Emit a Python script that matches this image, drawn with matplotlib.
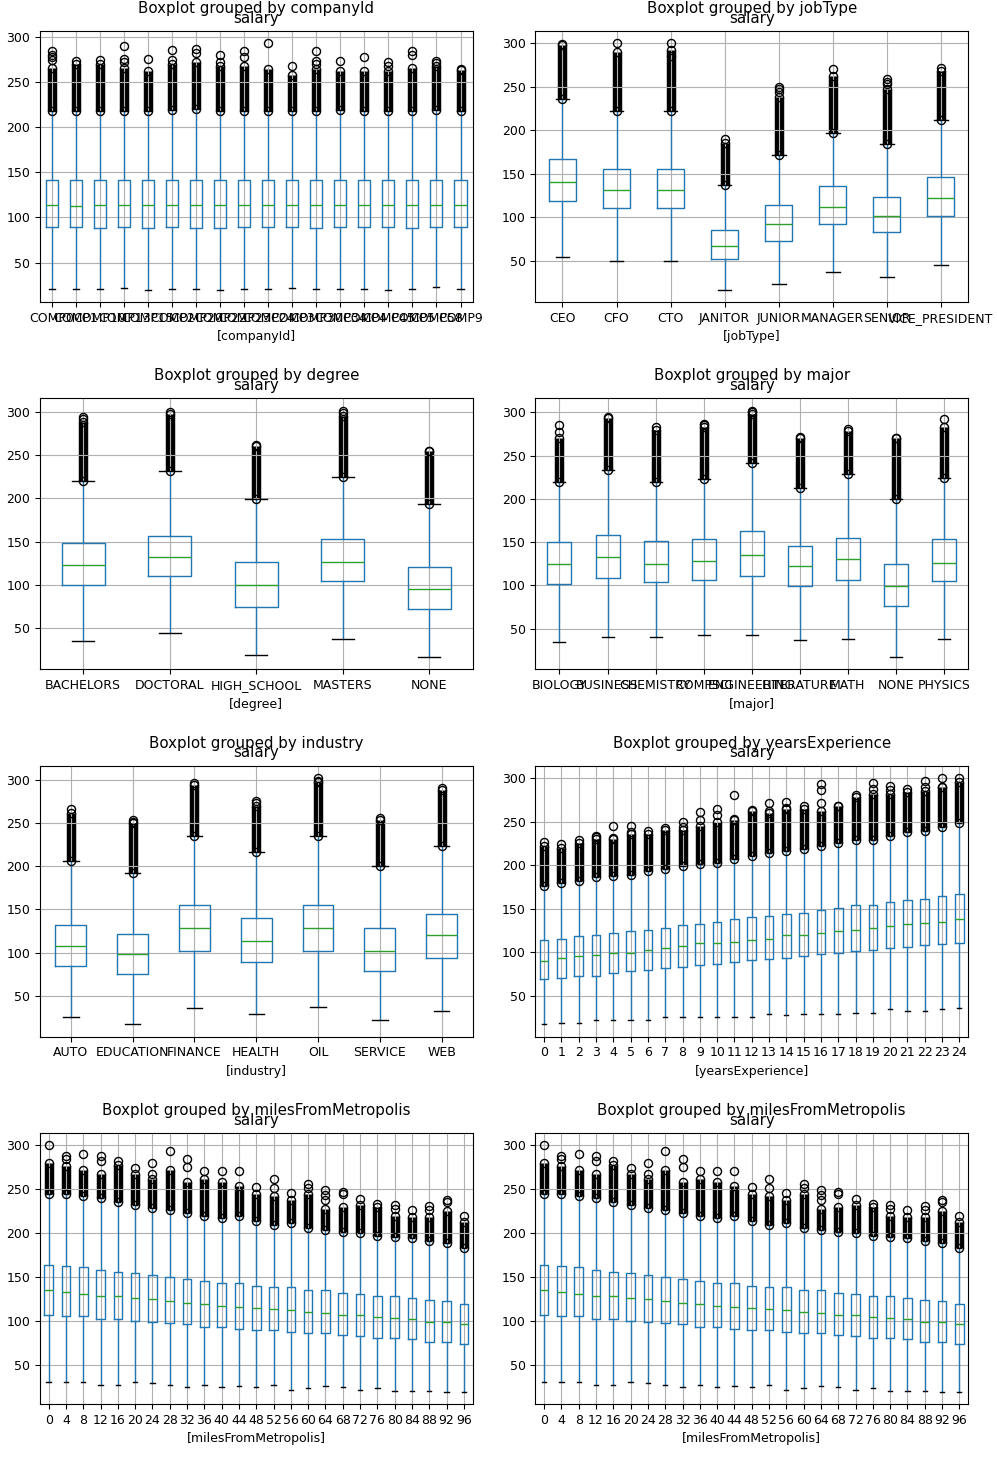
import numpy as np
import matplotlib
matplotlib.use('Agg')
import matplotlib.pyplot as plt

# salary boxplots, one panel per feature

company_labels = ['COMP0', 'COMP1', 'COMP10', 'COMP13', 'COMP15', 'COMP2', 'COMP20', 'COMP22', 'COMP23',
                  'COMP24', 'COMP3', 'COMP30', 'COMP34', 'COMP4', 'COMP45', 'COMP5', 'COMP58', 'COMP9']
company_med = [114, 113, 114, 114, 114, 114, 114, 114, 114, 114, 114, 114, 114, 114, 114, 114, 114, 114]
company_q1 = [89, 89, 88, 89, 88, 89, 88, 88, 89, 89, 89, 88, 89, 89, 89, 88, 89, 89]
company_q3 = [142, 141, 141, 141, 141, 142, 142, 141, 141, 141, 141, 141, 142, 141, 141, 141, 142, 142]
company_lo = [21, 21, 21, 22, 20, 21, 21, 20, 21, 21, 22, 21, 21, 21, 20, 21, 23, 21]
company_hi = [218, 218, 218, 218, 218, 219, 220, 218, 218, 218, 218, 218, 219, 218, 218, 218, 219, 218]
company_dense = [266, 270, 270, 266, 262, 270, 272, 268, 268, 265, 258, 265, 262, 262, 262, 266, 268, 263]
company_lone = [[275, 278, 280, 284], [274], [275], [272, 276, 290], [276], [275, 286], [282, 287], [272, 280],
                [278, 285], [293], [268], [270, 273, 284], [273], [278], [268, 272], [280, 284], [271, 274], [265]]

job_labels = ['CEO', 'CFO', 'CTO', 'JANITOR', 'JUNIOR', 'MANAGER', 'SENIOR', 'VICE_PRESIDENT']
job_med = [141, 131, 131, 67, 92, 112, 102, 122]
job_q1 = [119, 111, 111, 52, 73, 92, 83, 102]
job_q3 = [167, 156, 156, 86, 114, 136, 124, 146]
job_lo = [54, 50, 50, 17, 23, 37, 31, 45]
job_hi = [236, 222, 222, 137, 172, 197, 184, 212]
job_dense = [298, 290, 292, 186, 238, 262, 248, 268]
job_lone = [[299], [300], [285, 300], [190], [244, 247, 250], [270], [253, 256, 259], [272]]

degree_labels = ['BACHELORS', 'DOCTORAL', 'HIGH_SCHOOL', 'MASTERS', 'NONE']
degree_med = [123, 132, 100, 127, 95]
degree_q1 = [100, 110, 75, 105, 72]
degree_q3 = [149, 157, 126, 153, 121]
degree_lo = [35, 45, 19, 38, 17]
degree_hi = [220, 231, 199, 225, 193]
degree_dense = [288, 297, 260, 295, 254]
degree_lone = [[291, 294], [300], [262], [298, 301], [255]]

major_labels = ['BIOLOGY', 'BUSINESS', 'CHEMISTRY', 'COMPSCI', 'ENGINEERING', 'LITERATURE', 'MATH', 'NONE', 'PHYSICS']
major_med = [125, 133, 125, 128, 135, 122, 130, 99, 126]
major_q1 = [102, 109, 104, 106, 111, 99, 106, 76, 105]
major_q3 = [150, 158, 151, 154, 163, 145, 155, 125, 153]
major_lo = [34, 40, 40, 42, 42, 37, 38, 17, 38]
major_hi = [219, 233, 220, 223, 241, 213, 229, 200, 224]
major_dense = [270, 294, 280, 283, 298, 270, 278, 270, 283]
major_lone = [[277, 285], [295], [283], [285, 287], [300, 302], [272], [281], [271], [293]]

industry_labels = ['AUTO', 'EDUCATION', 'FINANCE', 'HEALTH', 'OIL', 'SERVICE', 'WEB']
industry_med = [108, 98, 128, 114, 128, 102, 120]
industry_q1 = [84, 75, 102, 89, 102, 79, 94]
industry_q3 = [132, 122, 155, 140, 155, 128, 145]
industry_lo = [26, 17, 36, 29, 37, 22, 32]
industry_hi = [206, 192, 235, 216, 235, 200, 223]
industry_dense = [262, 250, 294, 270, 298, 254, 288]
industry_lone = [[266], [251, 254], [296], [273, 275], [299, 302], [256], [291]]

years_labels = [str(y) for y in range(25)]
years_med = [90, 93, 95, 97, 99, 99, 102, 105, 107, 110, 111, 112, 114, 115, 120, 120, 122, 124, 126, 128, 130, 132, 134, 135, 138]
years_q1 = [69, 70, 73, 73, 76, 78, 80, 82, 83, 85, 86, 89, 91, 92, 93, 96, 98, 99, 101, 102, 105, 106, 108, 109, 111]
years_q3 = [114, 115, 118, 120, 122, 124, 126, 128, 131, 132, 135, 138, 140, 141, 144, 145, 148, 151, 154, 154, 158, 160, 161, 164, 167]
years_lo = [17, 19, 19, 22, 22, 22, 22, 26, 26, 26, 25, 26, 26, 29, 28, 29, 29, 29, 30, 30, 35, 32, 32, 35, 36]
years_hi = [176, 179, 182, 186, 187, 189, 193, 196, 199, 201, 203, 207, 210, 214, 216, 218, 222, 225, 229, 229, 233, 238, 239, 244, 248]
years_dense = [222, 220, 225, 230, 230, 236, 236, 240, 240, 245, 250, 252, 262, 260, 264, 264, 262, 268, 278, 282, 282, 284, 285, 290, 295]
years_lone = [[227], [224], [229], [232, 234], [231, 245], [238, 245], [239], [243], [244, 249], [252, 261],
              [258, 264], [253, 281], [263], [262, 271], [266, 273], [268], [271, 286, 293], [268], [281],
              [288, 294], [286, 291], [288], [290, 297], [290, 300], [300]]

miles_labels = [str(m) for m in range(0, 100, 4)]
miles_med = [135, 133, 131, 128, 128, 126, 125, 122, 120, 119, 117, 116, 115, 113, 112, 110, 109, 107, 107, 104, 103, 102, 99, 99, 96]
miles_q1 = [106, 105, 105, 102, 102, 100, 99, 97, 96, 93, 93, 91, 90, 89, 87, 86, 86, 84, 83, 80, 80, 79, 76, 76, 74]
miles_q3 = [164, 162, 161, 158, 156, 154, 152, 150, 148, 145, 143, 143, 140, 138, 138, 135, 135, 132, 130, 128, 128, 126, 124, 122, 119]
miles_lo = [30, 30, 30, 27, 27, 30, 29, 27, 24, 27, 24, 26, 24, 27, 21, 23, 26, 24, 21, 23, 20, 20, 20, 19, 19]
miles_hi = [245, 245, 242, 240, 235, 232, 229, 226, 223, 220, 217, 219, 214, 209, 212, 206, 204, 201, 200, 197, 195, 194, 191, 189, 183]
miles_dense = [280, 276, 272, 268, 278, 268, 262, 272, 258, 262, 258, 254, 245, 242, 238, 245, 228, 230, 232, 230, 220, 218, 218, 225, 213]
miles_lone = [[300], [285, 288], [290], [282, 288], [282], [274], [268, 280], [294], [275, 284], [271], [271], [271],
              [253], [252, 262], [246], [252, 256], [238, 244, 249], [245, 247], [239], [233], [228, 232], [226],
              [226, 231], [236, 238], [219]]

plt.rcParams['font.size'] = 9
plt.rcParams['xtick.labelsize'] = 9
plt.rcParams['ytick.labelsize'] = 9
plt.rcParams['axes.titlesize'] = 10.8


def draw(ax, by, labels, med, q1, q3, lo, hi, dense, lone):
    stats = []
    for i in range(len(labels)):
        stats.append(dict(label=labels[i], med=med[i], q1=q1[i], q3=q3[i],
                          whislo=lo[i], whishi=hi[i], fliers=[hi[i], dense[i]] + lone[i]))
    pos = np.arange(1, len(labels) + 1)
    # thousands of overlapping outliers form a solid black column
    ax.vlines(pos, hi, dense, color='k', lw=6.8, zorder=1.5)
    ax.bxp(stats, positions=pos,
           boxprops=dict(color='C0'), whiskerprops=dict(color='C0'),
           capprops=dict(color='k'), medianprops=dict(color='C2'),
           flierprops=dict(marker='o', markersize=5.8, markeredgecolor='k', markerfacecolor='none'))
    ax.grid(True)
    ax.set_title('salary', pad=6)
    ax.annotate('Boxplot grouped by ' + by, xy=(0.5, 1), xycoords='axes fraction',
                xytext=(0, 13), textcoords='offset points', ha='center', va='baseline', fontsize=10.8)
    ax.set_xlabel('[' + by + ']')


fig, axes = plt.subplots(4, 2, figsize=(9.97, 14.65), dpi=100)
fig.subplots_adjust(left=0.0401, right=0.9709, bottom=0.0416, top=0.9788, wspace=0.1455, hspace=0.356)

draw(axes[0, 0], 'companyId', company_labels, company_med, company_q1, company_q3, company_lo, company_hi, company_dense, company_lone)
draw(axes[0, 1], 'jobType', job_labels, job_med, job_q1, job_q3, job_lo, job_hi, job_dense, job_lone)
draw(axes[1, 0], 'degree', degree_labels, degree_med, degree_q1, degree_q3, degree_lo, degree_hi, degree_dense, degree_lone)
draw(axes[1, 1], 'major', major_labels, major_med, major_q1, major_q3, major_lo, major_hi, major_dense, major_lone)
draw(axes[2, 0], 'industry', industry_labels, industry_med, industry_q1, industry_q3, industry_lo, industry_hi, industry_dense, industry_lone)
draw(axes[2, 1], 'yearsExperience', years_labels, years_med, years_q1, years_q3, years_lo, years_hi, years_dense, years_lone)
draw(axes[3, 0], 'milesFromMetropolis', miles_labels, miles_med, miles_q1, miles_q3, miles_lo, miles_hi, miles_dense, miles_lone)
draw(axes[3, 1], 'milesFromMetropolis', miles_labels, miles_med, miles_q1, miles_q3, miles_lo, miles_hi, miles_dense, miles_lone)

fig.savefig('out.png', dpi=100)
